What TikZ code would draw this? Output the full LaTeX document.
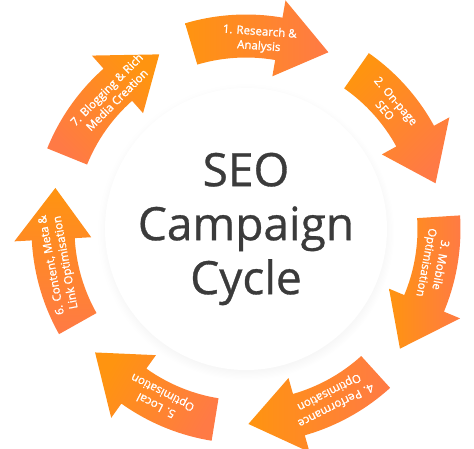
\documentclass[tikz,border=0pt]{standalone}
\usepackage{fontspec}
\setmainfont{Open Sans}
\newfontfamily\seoarrowfont{Open Sans}[FakeBold=1.2]
\newfontfamily\seotitlefont{Open Sans}[FakeBold=0.7]
\usepackage{tikz}
\usetikzlibrary{shadows, calc}
\definecolor{seoamber}{HTML}{FF9410}
\definecolor{seocoral}{HTML}{FF7A45}
\definecolor{seoink}{HTML}{3B3B3B}

\begin{document}
\begin{tikzpicture}[x=1pt,y=1pt,
  arrowtxt/.style={text=white, align=center, inner sep=0pt,
    font=\seoarrowfont\fontsize{11.5}{14.5}\selectfont}]
  \def\ri{171.5}\def\ro{214.5}\def\hi{155}\def\ho{232}\def\rt{195}\def\rtx{190}
  \useasboundingbox (-246,-219) rectangle (228,229);
  \node[circle, fill=white, minimum size=282, inner sep=0pt,
        circular drop shadow={shadow xshift=0pt, shadow yshift=-3pt,
        opacity=0.14, shadow scale=1.05}] (hub) at (0,0) {};
  \node[text=seoink, align=center, font=\seotitlefont\fontsize{46}{54}\selectfont] (title) at (hub) {SEO\\Campaign\\Cycle};
  \foreach \i/\ta/\sa/\txt in {
    0/86/90/{1. Research \&\\Analysis},
    1/40.5/45/{2. On-page\\SEO},
    2/-10.5/90/{3. Mobile\\Optimisation},
    3/-63/90/{4. Performance\\Optimisation},
    4/-117/60/{5. Local\\Optimisation},
    5/190.5/0/{6. Content, Meta \&\\Link Optimisation},
    6/135/-45/{7. Blogging \& Rich\\Media Creation}}
  {
    \pgfmathsetmacro{\tail}{106.5-51.43*\i}
    \pgfmathsetmacro{\hb}{\tail-26.3}
    \pgfmathsetmacro{\tip}{\tail-41.5}
    \shade[top color=seoamber, bottom color=seocoral, shading angle=\sa]
      (\tail:\ro) arc[start angle=\tail, end angle=\hb, radius=\ro]
      -- (\hb:\ho) -- (\tip:\rt) -- (\hb:\hi) -- (\hb:\ri)
      arc[start angle=\hb, end angle=\tail, radius=\ri] -- cycle;
    \node[arrowtxt, rotate=\ta-90] (lbl\i) at (\ta:\rtx) {\txt};
  }
\end{tikzpicture}
\end{document}
